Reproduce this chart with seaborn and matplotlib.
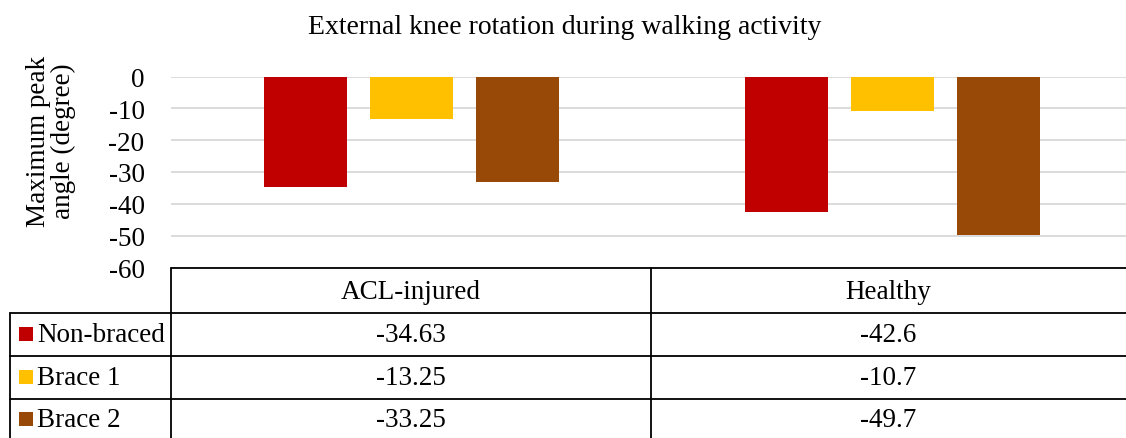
import numpy as np
import pandas as pd
import matplotlib
matplotlib.use("Agg")
import matplotlib.pyplot as plt
import seaborn as sns

# ── Data ─────────────────────────────────────────────────────
groups = ["ACL-injured", "Healthy"]
conditions = ["Non-braced", "Brace 1", "Brace 2"]
non_braced = [-34.63, -42.6]
brace_1 = [-13.25, -10.7]
brace_2 = [-33.25, -49.7]
colors = ["#C00000", "#FFC000", "#984807"]
yticks = [0, -10, -20, -30, -40, -50, -60]

df = pd.DataFrame({
    "group": groups * 3,
    "condition": np.repeat(conditions, len(groups)),
    "value": non_braced + brace_1 + brace_2,
})

sns.set_theme(style="white")
plt.rcParams["font.family"] = ["Liberation Serif", "DejaVu Serif"]
plt.rcParams["text.color"] = "black"
FS = 19.5

W, H = 1126, 439
fig = plt.figure(figsize=(W / 100, H / 100), dpi=100)

# plot area in pixel terms
left, right, top, bottom = 171, 1133, 77.5, 268.5
ax = fig.add_axes([left / W, 1 - bottom / H, (right - left) / W, (bottom - top) / H])

sns.barplot(data=df, x="group", y="value", hue="condition", order=groups,
            hue_order=conditions, palette=colors, saturation=1, width=0.66,
            gap=0.22, linewidth=0, ax=ax, legend=False)
ax.set_xlim(-0.5, 1.5)
ax.set_ylim(-60, 0)
ax.set_yticks(yticks)
ax.set_yticklabels([str(t) for t in yticks], fontsize=FS, color="black")
ax.tick_params(axis="y", length=0, pad=19)
ax.set_xticks([])
ax.set_xlabel(""); ax.set_ylabel("")
ax.yaxis.grid(True, color="#D9D9D9", lw=1.3)
ax.set_axisbelow(True)
for s in ax.spines.values():
    s.set_visible(False)

fig.text(565 / W, 1 - 27 / H, "External knee rotation during walking activity",
         ha="center", va="center", fontsize=20)
fig.text(51 / W, 1 - 141 / H, "Maximum peak\nangle (degree)", rotation=90,
         ha="center", va="center", fontsize=FS, linespacing=0.95)

# ── Data table under the chart ───────────────────────────────
ov = fig.add_axes([0, 0, 1, 1])
ov.set_xlim(0, W); ov.set_ylim(H, 0); ov.axis("off")
ov.patch.set_alpha(0)

lc = dict(color="black", lw=1.3)
col_div = 651
ov.plot([left, W], [bottom, bottom], **lc)
for yy in [314, 357, 400]:
    ov.plot([10, W], [yy, yy], **lc)
ov.plot([10, 10], [314, H], **lc)
ov.plot([left, left], [bottom, H], **lc)
ov.plot([col_div, col_div], [bottom, H], **lc)

col_centers = [(left + col_div) / 2, (col_div + W) / 2]
for g, cx in zip(groups, col_centers):
    ov.text(cx, 293, g, ha="center", va="center", fontsize=FS)

row_y = [336, 379, 421]
for name, vals, c, ry in zip(conditions, [non_braced, brace_1, brace_2], colors, row_y):
    ov.add_patch(plt.Rectangle((19, ry - 8), 14, 14, color=c, lw=0))
    ov.text(37, ry, name, ha="left", va="center", fontsize=FS)
    for v, cx in zip(vals, col_centers):
        ov.text(cx, ry, f"{v:g}", ha="center", va="center", fontsize=FS)

fig.savefig("out.png", dpi=100)
